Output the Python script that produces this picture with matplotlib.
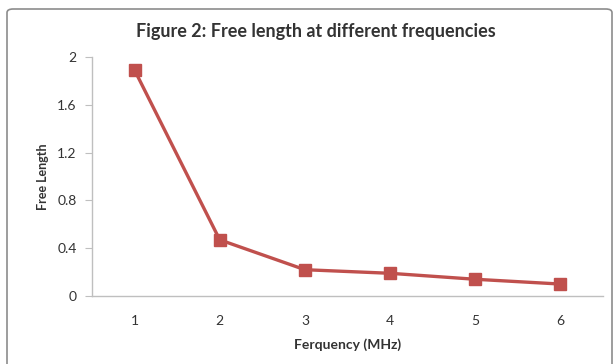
import matplotlib.pyplot as plt
from matplotlib.patches import FancyBboxPatch

# data
frequency = [1, 2, 3, 4, 5, 6]
free_length = [1.89, 0.47, 0.22, 0.19, 0.14, 0.10]
y_ticks = [0, 0.4, 0.8, 1.2, 1.6, 2]
y_tick_labels = ["0", "0.4", "0.8", "1.2", "1.6", "2"]

plt.rcParams['font.family'] = ['Lato', 'DejaVu Sans']

W, H = 616, 364
fig = plt.figure(figsize=(W / 100, H / 100), dpi=100)
fig.patch.set_facecolor("white")

# outer chart border (Excel chart area)
border = FancyBboxPatch((7 / W, -0.05), (612 - 7) / W, (H - 9) / H + 0.05,
                        boxstyle="round,pad=0,rounding_size=0.01",
                        transform=fig.transFigure, fill=False,
                        edgecolor="#8c8c8c", linewidth=1.2)
fig.patches.append(border)

ax = fig.add_axes([92 / W, (H - 296) / H, (603 - 92) / W, (296 - 57) / H])
ax.plot(frequency, free_length, color="#C0504D", linewidth=2.4,
        marker="s", markersize=8, markerfacecolor="#C0504D",
        markeredgecolor="#C0504D")

ax.set_xlim(0.5, 6.5)
ax.set_ylim(0, 2)
ax.set_xticks(frequency)
ax.set_xticklabels([str(f) for f in frequency])
ax.set_yticks(y_ticks)
ax.set_yticklabels(y_tick_labels)

for side in ["top", "right"]:
    ax.spines[side].set_visible(False)
for side in ["left", "bottom"]:
    ax.spines[side].set_color("#bfbfbf")
    ax.spines[side].set_linewidth(1.0)

ax.tick_params(axis="y", direction="out", length=5, color="#bfbfbf",
               labelsize=10, labelcolor="#333333", pad=6)
ax.tick_params(axis="x", length=0, labelsize=10, labelcolor="#333333", pad=14)

ax.set_xlabel("Ferquency (MHz)", fontsize=10, fontweight="bold",
              color="#333333", labelpad=8)
ax.set_ylabel("Free Length", fontsize=9, fontweight="bold",
              color="#333333", labelpad=6)
fig.text(316 / W, 1 - 31 / H, "Figure 2: Free length at different frequencies",
         ha="center", va="center", fontsize=13, fontweight="bold",
         color="#333333")

fig.savefig("out.png", dpi=100)
